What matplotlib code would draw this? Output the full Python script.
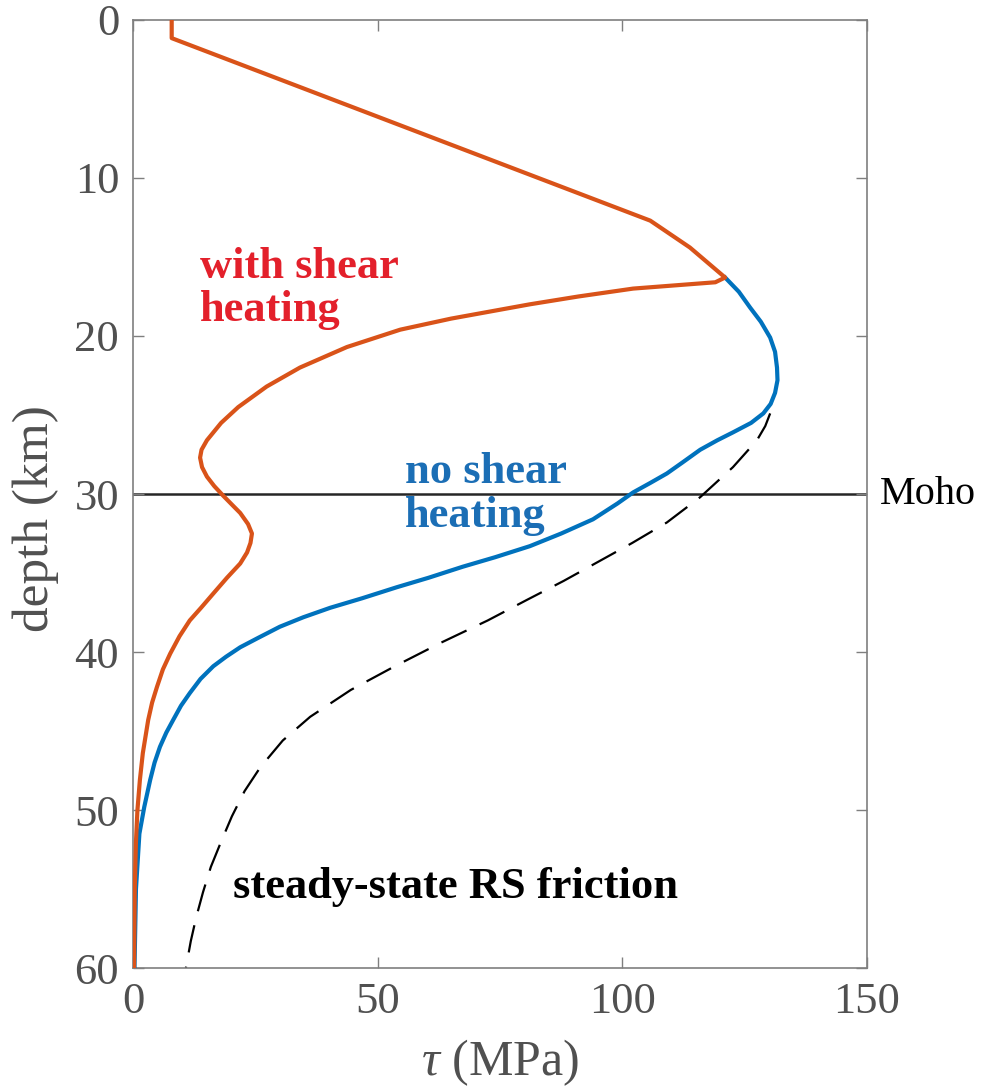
import matplotlib
matplotlib.use("Agg")
import matplotlib.pyplot as plt

plt.rcParams['font.family'] = ['Liberation Serif', 'DejaVu Serif']
plt.rcParams['mathtext.fontset'] = 'custom'
plt.rcParams['mathtext.rm'] = 'Liberation Serif'
plt.rcParams['mathtext.it'] = 'Liberation Serif:italic'

# shear stress profiles, depth in km, tau in MPa
depth_heat = [0, 1.15, 12.7, 14.4, 16.3, 16.6, 17.0, 17.5, 18.0, 18.9, 19.6, 20.7, 22.0,
              23.2, 24.5, 25.5, 26.6, 27.2, 27.7, 28.3, 28.9, 29.5, 30.1, 30.7, 31.2,
              31.9, 32.5, 33.1, 33.7, 34.4, 35.3, 36.3, 37.2, 38.0, 39.0, 40.1, 41.1,
              42.2, 43.2, 44.3, 46.4, 48.1, 50.0, 52.0, 55.0, 60.0]
tau_heat = [7.9, 7.9, 105.7, 113.8, 121.0, 119.0, 102.2, 91.0, 81.0, 65.0, 54.6, 43.7, 34.1,
            27.3, 21.5, 18.0, 15.1, 14.0, 13.7, 14.1, 15.1, 16.6, 18.4, 20.3, 21.9,
            23.5, 24.3, 24.0, 23.3, 21.9, 19.2, 16.4, 13.9, 11.6, 9.5, 7.6, 6.1,
            4.9, 3.9, 3.1, 2.0, 1.4, 0.9, 0.6, 0.35, 0.2]

depth_noheat = [16.3, 17.2, 18.2, 19.1, 20.1, 21.0, 22.0, 22.8, 23.6, 24.3, 24.9, 25.5,
                26.1, 26.6, 27.2, 28.0, 28.7, 29.3, 29.9, 30.6, 31.6, 32.5, 33.3, 34.0,
                34.6, 35.3, 35.9, 36.6, 37.2, 37.8, 38.4, 39.1, 39.7, 40.3, 40.9, 41.7,
                42.6, 43.4, 44.3, 45.1, 46.0, 47.0, 48.1, 49.8, 51.5, 55.0, 60.0]
tau_noheat = [121.0, 123.8, 126.1, 128.3, 130.2, 131.2, 131.6, 131.7, 131.2, 130.3, 128.8, 126.3,
              122.6, 119.4, 115.9, 112.3, 109.1, 105.7, 102.2, 99.0, 94.0, 87.5, 81.1, 74.0,
              67.4, 60.4, 53.9, 46.8, 40.3, 34.8, 30.0, 25.6, 21.9, 19.0, 16.4, 13.8,
              11.6, 9.8, 8.2, 6.8, 5.5, 4.4, 3.5, 2.3, 1.3, 0.6, 0.3]

depth_rs = [24.9, 25.7, 26.6, 28.3, 30.2, 31.8, 33.1, 34.3, 35.5, 36.7, 38.0, 39.4,
            40.9, 42.4, 44.1, 45.6, 47.3, 48.8, 50.4, 52.0, 53.6, 55.2, 56.8, 58.3, 60.0]
tau_rs = [130.2, 129.2, 127.5, 122.6, 115.9, 109.1, 102.0, 95.0, 88.0, 80.5, 72.5, 63.0,
          53.5, 44.5, 36.2, 30.6, 26.0, 22.8, 20.2, 18.0, 15.9, 14.3, 12.9, 11.8, 10.8]

moho_depth = 30

fig = plt.figure(figsize=(9.95, 10.91), dpi=100)
ax = fig.add_axes([0.1337, 0.1127, 0.7377, 0.8690])

ax.axhline(moho_depth, color='#262626', lw=1.8, zorder=1)
ax.plot(tau_rs, depth_rs, color='black', lw=1.6, dashes=(12.5, 6.5), zorder=2)
ax.plot(tau_noheat, depth_noheat, color='#0072BD', lw=3.0, zorder=3,
        solid_joinstyle='round')
ax.plot(tau_heat, depth_heat, color='#D95319', lw=3.0, zorder=4,
        solid_joinstyle='round')

ax.set_xlim(0, 150)
ax.set_ylim(60, 0)
ax.set_xticks([0, 50, 100, 150])
ax.set_yticks([0, 10, 20, 30, 40, 50, 60])

gray = '#7f7f7f'
for s in ax.spines.values():
    s.set_color(gray)
    s.set_linewidth(1.2)
ax.tick_params(direction='in', length=8, width=1.0, color=gray,
               labelcolor='#505050', labelsize=32, top=True, right=True, pad=10)

ax.set_xlabel(r'$\tau$ (MPa)', fontsize=36, color='#505050')
ax.xaxis.label.set_va('center')
ax.xaxis.set_label_coords(0.5, -0.1)
ax.set_ylabel('depth (km)', fontsize=37, color='#505050')
ax.yaxis.label.set_va('center')
ax.yaxis.set_label_coords(-0.132, 0.474)

ax.text(152.7, moho_depth, 'Moho', fontsize=29, color='black', va='center',
        ha='left', clip_on=False)
ax.text(13.7, 17.0, 'with shear\nheating', fontsize=32, fontweight='bold',
        color='#E3202B', va='center', ha='left', linespacing=1.1)
ax.text(55.6, 30.0, 'no shear\nheating', fontsize=32, fontweight='bold',
        color='#1B6EB5', va='center', ha='left', linespacing=1.1)
ax.text(20.4, 54.9, 'steady-state RS friction', fontsize=32, fontweight='bold',
        color='black', va='center', ha='left')

fig.savefig('out.png', dpi=100)
